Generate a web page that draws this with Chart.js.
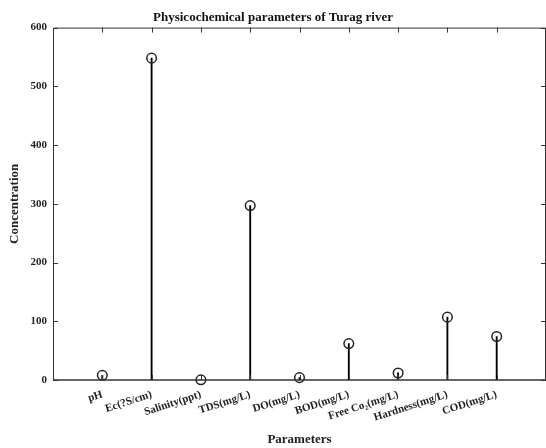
<!DOCTYPE html>
<html><head><meta charset="utf-8">
<script src="https://cdn.jsdelivr.net/npm/chart.js@4"></script>
<style>html,body{margin:0;padding:0;background:#fff}#wrap{width:546px;height:448px}</style>
</head><body><div id="wrap"><canvas id="c"></canvas></div>
<script>
const categories = ["pH","Ec(?S/cm)","Salinity(ppt)","TDS(mg/L)","DO(mg/L)","BOD(mg/L)","Free Co\u2082(mg/L)","Hardness(mg/L)","COD(mg/L)"];
const concentration = [8, 548, 0.3, 297, 4, 62, 12, 107, 74];
const yTicks = [0,100,200,300,400,500,600];

const pts = categories.map((c,i)=>({x:i+1,y:concentration[i]}));
const F = "'Liberation Serif','Times New Roman',serif";
const AX = '#333';

const frame = {
  id:'frame',
  afterDatasetsDraw(chart){
    const {ctx, chartArea:a, scales:{x,y}} = chart;
    ctx.save();
    ctx.strokeStyle = AX; ctx.lineWidth = 1;
    ctx.beginPath();
    ctx.moveTo(a.left+0.5, a.bottom); ctx.lineTo(a.left+0.5, a.top+0.5);
    ctx.lineTo(a.right-0.5, a.top+0.5); ctx.lineTo(a.right-0.5, a.bottom);
    ctx.stroke();
    ctx.lineWidth = 1.6;
    ctx.beginPath(); ctx.moveTo(a.left, a.bottom); ctx.lineTo(a.right, a.bottom); ctx.stroke();
    ctx.lineWidth = 1;
    ctx.beginPath();
    yTicks.forEach(v=>{
      const py = Math.round(y.getPixelForValue(v))+0.5;
      ctx.moveTo(a.left, py); ctx.lineTo(a.left+5, py);
      ctx.moveTo(a.right, py); ctx.lineTo(a.right-5, py);
    });
    categories.forEach((c,i)=>{
      const px = Math.round(x.getPixelForValue(i+1))+0.5;
      ctx.moveTo(px, a.top); ctx.lineTo(px, a.top+5);
      ctx.moveTo(px, a.bottom); ctx.lineTo(px, a.bottom-5);
    });
    ctx.stroke();
    ctx.restore();
  }
};

new Chart(document.getElementById('c'), {
  data:{
    datasets:[
      {type:'scatter', data:pts, pointStyle:'circle', pointRadius:4.8, pointHoverRadius:4.8,
       borderColor:'#222', backgroundColor:'rgba(0,0,0,0)', pointBorderWidth:1.5, clip:false, order:0},
      {type:'bar', data:pts, backgroundColor:'#000', barThickness:1.2, grouped:false, order:1}
    ]
  },
  options:{
    responsive:true, maintainAspectRatio:false, animation:false,
    layout:{autoPadding:false, padding:{left:0,right:0,top:0,bottom:0}},
    plugins:{
      legend:{display:false}, tooltip:{enabled:false},
      title:{display:true, text:'Physicochemical parameters of Turag river', color:'#111',
        font:{family:F, size:13, weight:'bold'}, padding:{top:10,bottom:2}}
    },
    scales:{
      x:{type:'linear', min:0, max:10, offset:false,
        beforeUpdate(s){ s._calculatePadding = function(){ this.paddingLeft = 0; this.paddingRight = 0; }; },
        afterFit(s){s.height=68;},
        grid:{display:false, drawTicks:false},
        border:{display:false},
        ticks:{stepSize:1, autoSkip:false, minRotation:18, maxRotation:18, padding:8, color:'#222',
          font:{family:F, size:11, weight:'bold'},
          callback:(v)=> (Number.isInteger(v) && v>=1 && v<=categories.length) ? categories[v-1] : ''},
        title:{display:true, text:'Parameters', color:'#222', font:{family:F, size:13, weight:'bold'}, padding:{top:4,bottom:1}}
      },
      y:{min:0, max:600,
        afterFit(s){s.width=53;},
        grid:{display:false, drawTicks:false},
        border:{display:false},
        afterBuildTicks(s){s.ticks = yTicks.map(v=>({value:v}));},
        ticks:{padding:6, color:'#222', font:{family:F, size:11, weight:'bold'}},
        title:{display:true, text:'Concentration', color:'#222', font:{family:F, size:13, weight:'bold'}, padding:{top:7,bottom:8}}
      }
    }
  },
  plugins:[frame]
});
</script></body></html>
